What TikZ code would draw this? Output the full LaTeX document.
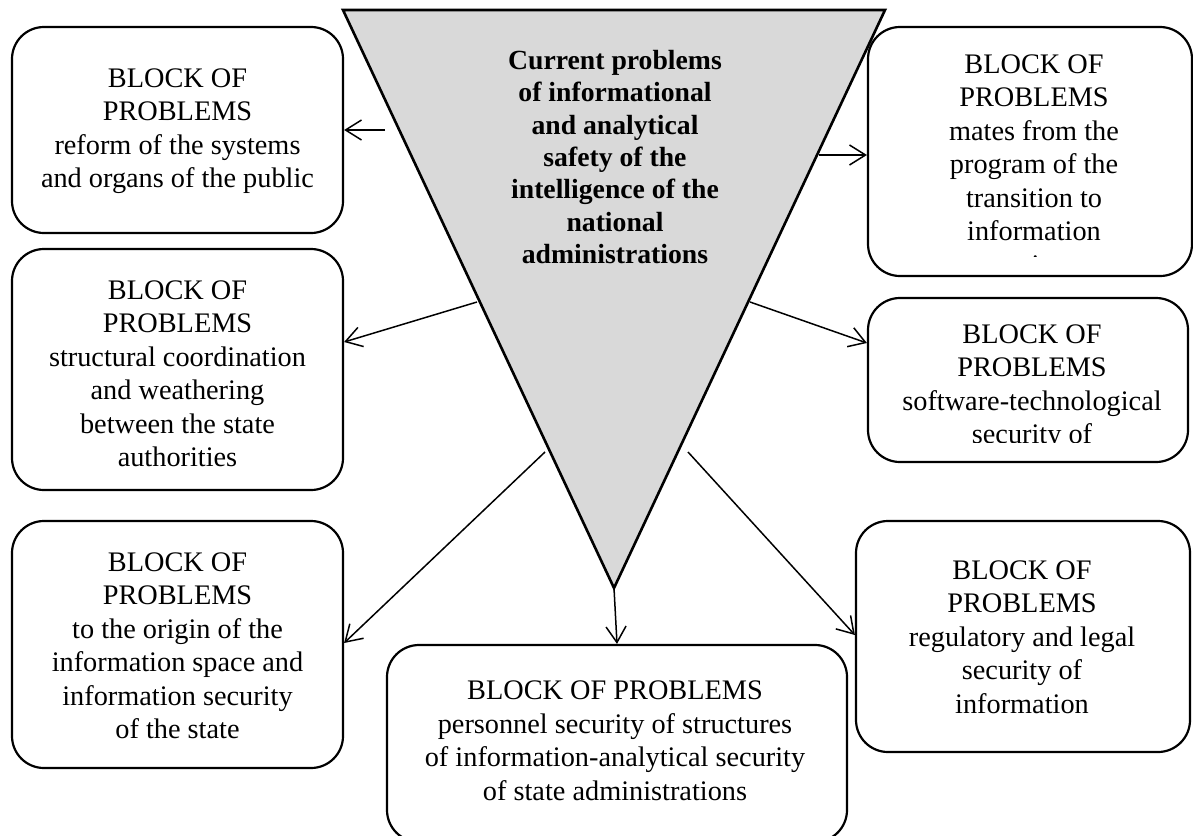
\documentclass[tikz,border=0pt]{standalone}
\usepackage{fontspec}
\setmainfont{Liberation Serif}
\usetikzlibrary{arrows.meta}
\definecolor{trifill}{HTML}{D9D9D9}
\tikzset{
  blockbox/.style={draw, line width=2.2pt, rounded corners=32pt, inner sep=0pt},
  blocktext/.style={align=center, font=\fontsize{28.3}{33.5}\selectfont, inner sep=0pt},
  titletext/.style={align=center, font=\fontsize{27.7}{32.3}\selectfont\bfseries, inner sep=0pt},
  funnel/.style={draw, fill=trifill, line width=2.6pt, line join=miter},
  arr/.style={line width=1.5pt, -{Straight Barb[length=16pt,width=20pt]}},
}
\begin{document}
\begin{tikzpicture}[x=1pt,y=-1pt]
\useasboundingbox (0,0) rectangle (1193,835);
\clip (0,0) rectangle (1193,835);
\fill[white] (0,0) rectangle (1193,835);

% central funnel
\coordinate (tl) at (343,10);
\coordinate (tr) at (885,10);
\coordinate (apex) at (614,588);
\draw[funnel] (tl) -- (tr) -- (apex) -- cycle;
\node[titletext] (title) at (615,157) {Current problems\\of informational\\and analytical\\safety of the\\intelligence of the\\national\\administrations};

% boxes
\node[blockbox, minimum width=331pt, minimum height=206pt] (b1) at (177.5,130) {};
\node[blockbox, minimum width=331pt, minimum height=241pt] (b2) at (177.5,369.5) {};
\node[blockbox, minimum width=331pt, minimum height=247pt] (b3) at (177.5,644.5) {};
\node[blockbox, minimum width=324pt, minimum height=249pt] (b4) at (1030,151.5) {};
\node[blockbox, minimum width=320pt, minimum height=164pt] (b5) at (1028,380) {};
\node[blockbox, minimum width=334pt, minimum height=231pt] (b6) at (1023,636.5) {};
\node[blockbox, minimum width=460pt, minimum height=197pt] (b7) at (617,743.5) {};

% texts
\node[blocktext] (t1) at (177.5,131) {BLOCK OF\\PROBLEMS\\reform of the systems\\and organs of the public};
\node[blocktext] (t2) at (177.5,374) {BLOCK OF\\PROBLEMS\\structural coordination\\and weathering\\between the state\\authorities};
\node[blocktext] (t3) at (177.5,646) {BLOCK OF\\PROBLEMS\\to the origin of the\\information space and\\information security\\of the state};
\node[blocktext] (t6) at (1022,637) {BLOCK OF\\PROBLEMS\\regulatory and legal\\security of\\information};
\node[blocktext] (t7) at (615,741) {BLOCK OF PROBLEMS\\personnel security of structures\\of information-analytical security\\of state administrations};
\begin{scope}
  \clip (870,29) rectangle (1190,256.5);
  \node[blocktext] (t4) at (1034,167.5) {BLOCK OF\\PROBLEMS\\mates from the\\program of the\\transition to\\information\\society};
\end{scope}
\begin{scope}
  \clip (870,300) rectangle (1186,442);
  \node[blocktext] (t5) at (1032,387) {BLOCK OF\\PROBLEMS\\software-technological\\security of};
\end{scope}

% connectors
\coordinate (s1) at (385,130);
\coordinate (s2) at (477,302);
\coordinate (s3) at (545,452);
\coordinate (s4) at (819,155);
\coordinate (s5) at (750,302);
\coordinate (s6) at (688,452);
\draw[arr] (s1) -- (b1.east |- 0,130);
\draw[arr] (s2) -- (b2.east |- 0,342);
\draw[arr] (s3) -- (b3.east |- 0,643);
\draw[arr] (s4) -- (b4.west |- 0,155);
\draw[arr] (s5) -- (b5.west |- 0,343);
\draw[arr] (s6) -- (b6.west |- 0,635);
\draw[arr] (apex) -- (b7.north);
\end{tikzpicture}
\end{document}
